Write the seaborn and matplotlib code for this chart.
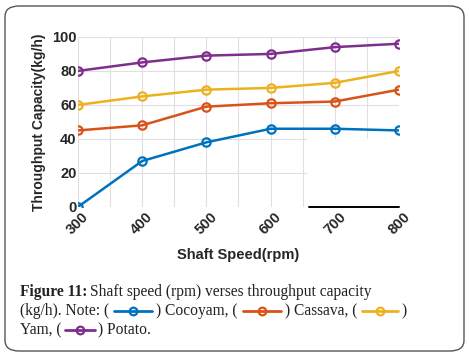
import matplotlib
matplotlib.use("Agg")
import matplotlib.pyplot as plt
import seaborn as sns
from matplotlib.patches import FancyBboxPatch, Rectangle
from matplotlib.lines import Line2D

# Data
speed = [300, 400, 500, 600, 700, 800]
cocoyam = [0, 27, 38, 46, 46, 45]
cassava = [45, 48, 59, 61, 62, 69]
yam = [60, 65, 69, 70, 73, 80]
potato = [80, 85, 89, 90, 94, 96]
names = ["Cocoyam", "Cassava", "Yam", "Potato"]
colors = ["#0072BD", "#D95319", "#EDB120", "#7E2F8E"]

sns.set_style("white")
plt.rcParams["font.family"] = ["Liberation Sans", "DejaVu Sans"]

fig = plt.figure(figsize=(4.69, 3.55), dpi=100)
ax = fig.add_axes([0.166, 0.417, 0.685, 0.479])

for vals, c in zip([cocoyam, cassava, yam, potato], colors):
    sns.lineplot(x=speed, y=vals, ax=ax, color=c, lw=1.8, marker="o",
                 markersize=6, markerfacecolor="none", markeredgecolor=c,
                 markeredgewidth=1.6, zorder=4)

ax.set_xlim(300, 800)
ax.set_ylim(0, 100)
ax.set_xticks(speed)
ax.set_xticks(range(350, 800, 100), minor=True)
ax.set_yticks(range(0, 101, 20))
ax.grid(True, which="both", color="#e2dfe4", lw=0.8)
ax.tick_params(axis="x", labelrotation=45, labelsize=10.5, pad=2, length=0)
ax.tick_params(axis="y", labelsize=10.5, pad=1, length=0)
for lbl in ax.get_xticklabels() + ax.get_yticklabels():
    lbl.set_fontweight("bold")
for lbl in ax.get_xticklabels():
    lbl.set_ha("center")
ax.set_xlabel("Shaft Speed(rpm)", fontsize=10.5, fontweight="bold", labelpad=8)
ax.set_ylabel("Throughput Capacity(kg/h)", fontsize=10, fontweight="bold", labelpad=4)
for s in ax.spines.values():
    s.set_visible(False)

# blank patch in the lower right of the original scan
ax.add_patch(Rectangle((657, 0.6), 143, 39.4, fc="white", ec="none", zorder=2))
ax.plot([660, 800], [0, 0], color="black", lw=1.4, clip_on=False, zorder=5)

# rounded frame
frame = FancyBboxPatch((5 / 469, 4 / 355), 459 / 469, 345 / 355,
                       boxstyle="round,pad=0,rounding_size=0.03",
                       transform=fig.transFigure, fc="none", ec="#555555", lw=1.0)
fig.add_artist(frame)

# caption with inline legend samples
serif = ["Liberation Serif", "DejaVu Serif"]
fs = 11.2
fig.canvas.draw()
renderer = fig.canvas.get_renderer()
W, H = fig.bbox.width, fig.bbox.height


def put(x, y, s, weight="normal"):
    t = fig.text(x / W, 1 - y / H, s, fontsize=fs, family=serif,
                 fontweight=weight, va="baseline", ha="left", color="#222222")
    return x + t.get_window_extent(renderer).width


def sample(x, y, c, width=38):
    yy = 1 - (y - 4) / H
    fig.add_artist(Line2D([x / W, (x + width) / W], [yy, yy], color=c, lw=2,
                          transform=fig.transFigure))
    fig.add_artist(Line2D([(x + width / 2) / W], [yy], color=c, marker="o",
                          ms=5.5, mfc="none", mec=c, mew=1.6, transform=fig.transFigure))
    return x + width


x0 = 20
y1, y2, y3 = 296, 315, 334
x = put(x0, y1, "Figure 11:", "bold")
put(x + 3, y1, "Shaft speed (rpm) verses throughput capacity")

x = put(x0, y2, "(kg/h). Note: (")
x = sample(x + 5, y2, colors[0])
x = put(x + 4, y2, ") Cocoyam, (")
x = sample(x + 5, y2, colors[1])
x = put(x + 4, y2, ") Cassava, (")
x = sample(x + 5, y2, colors[2], width=36)
put(x + 4, y2, ")")

x = put(x0, y3, "Yam, (")
x = sample(x + 3, y3, colors[3], width=30)
put(x + 3, y3, ") Potato.")

fig.savefig("out.png", dpi=100)
